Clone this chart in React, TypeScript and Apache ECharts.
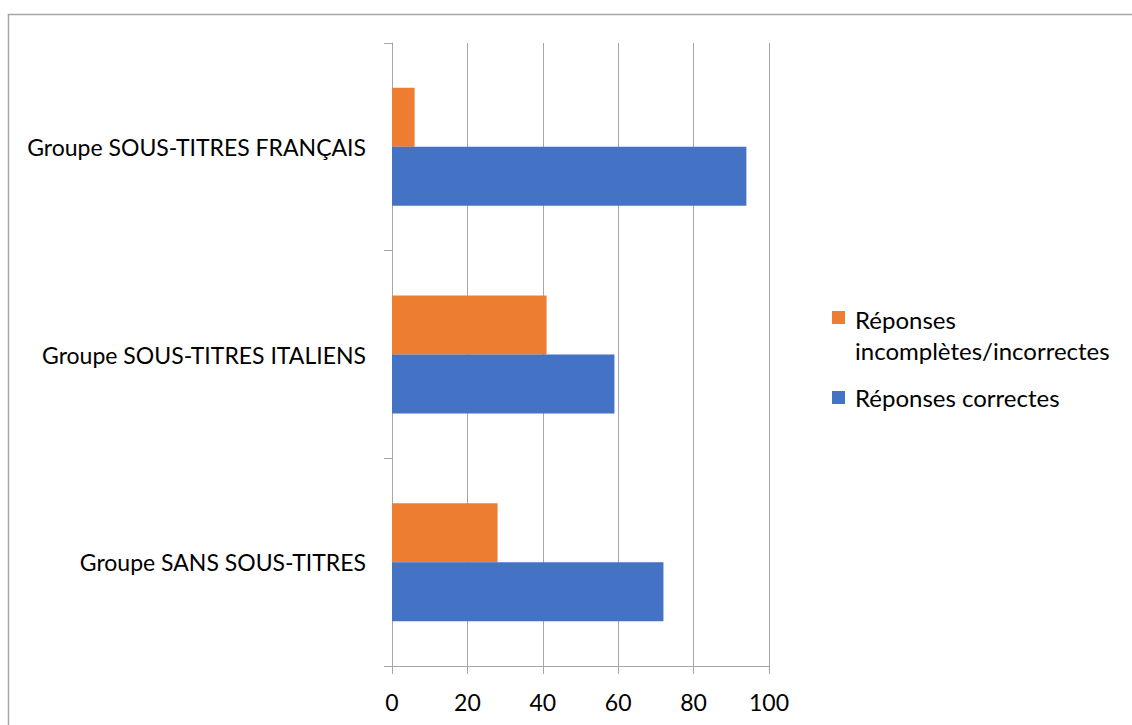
import React, { useEffect, useRef } from "react";
import * as echarts from "echarts";

// Groups, listed bottom to top as they appear on the vertical category axis
const groups = [
  "Groupe SANS SOUS-TITRES",
  "Groupe SOUS-TITRES ITALIENS",
  "Groupe SOUS-TITRES FRANÇAIS",
];

const correctLabel = "Réponses correctes";
const wrongLabel = "Réponses incomplètes/incorrectes";
const wrongLabelLines = ["Réponses", "incomplètes/incorrectes"];

// Percentages per group (same order as groups)
const correctValues = [72, 59, 94];
const wrongValues = [28, 41, 6];

const xTicks = { min: 0, max: 100, interval: 20 };

const FONT = "Lato, 'Open Sans', sans-serif";
const GRID_GRAY = "#a6a6a6";
const ORANGE = "#ED7D31";
const BLUE = "#4472C4";

export default function App() {
  const ref = useRef<HTMLDivElement>(null);

  useEffect(() => {
    if (!ref.current) return;
    const chart = echarts.init(ref.current, undefined, { renderer: "svg" });
    const legendText = (text: string, y: number) => ({
      type: "text",
      x: 855,
      y,
      silent: true,
      style: {
        text,
        fontFamily: FONT,
        fontSize: 24,
        fill: "#000000",
        align: "left",
        verticalAlign: "middle",
      },
    });
    chart.setOption({
      animation: false,
      backgroundColor: "#ffffff",
      textStyle: { fontFamily: FONT },
      graphic: [
        {
          type: "rect",
          shape: { x: 8.5, y: 14.5, width: 1300, height: 900 },
          style: { fill: "none", stroke: GRID_GRAY, lineWidth: 1.5 },
          silent: true,
        },
        // legend (first entry wraps onto two lines, swatch beside the first line)
        {
          type: "rect",
          shape: { x: 832, y: 311, width: 13, height: 13 },
          style: { fill: ORANGE },
          silent: true,
        },
        legendText(wrongLabelLines[0], 319),
        legendText(wrongLabelLines[1], 350),
        {
          type: "rect",
          shape: { x: 832, y: 391, width: 13, height: 13 },
          style: { fill: BLUE },
          silent: true,
        },
        legendText(correctLabel, 397),
      ],
      grid: { left: 392, right: 363, top: 43, bottom: 59, containLabel: false },
      xAxis: {
        type: "value",
        min: xTicks.min,
        max: xTicks.max,
        interval: xTicks.interval,
        axisLine: { show: true, lineStyle: { color: GRID_GRAY, width: 1 } },
        axisTick: { show: true, length: 8, lineStyle: { color: GRID_GRAY } },
        axisLabel: { fontFamily: FONT, fontSize: 23, color: "#000000", margin: 24 },
        splitLine: { show: true, lineStyle: { color: GRID_GRAY, width: 1 } },
      },
      yAxis: {
        type: "category",
        data: groups,
        axisLine: { show: true, lineStyle: { color: GRID_GRAY, width: 1 } },
        axisTick: { show: true, length: 8, lineStyle: { color: GRID_GRAY } },
        axisLabel: { fontFamily: FONT, fontSize: 23, color: "#000000", margin: 26 },
        splitLine: { show: false },
      },
      series: [
        {
          name: wrongLabel,
          type: "bar",
          data: wrongValues,
          barWidth: 59,
          barGap: "0%",
          itemStyle: { color: ORANGE },
        },
        {
          name: correctLabel,
          type: "bar",
          data: correctValues,
          barWidth: 59,
          barGap: "0%",
          itemStyle: { color: BLUE },
        },
      ],
    });
    return () => chart.dispose();
  }, []);

  return (
    <div
      ref={ref}
      style={{ position: "fixed", left: 0, top: 0, width: 1132, height: 725 }}
    />
  );
}
